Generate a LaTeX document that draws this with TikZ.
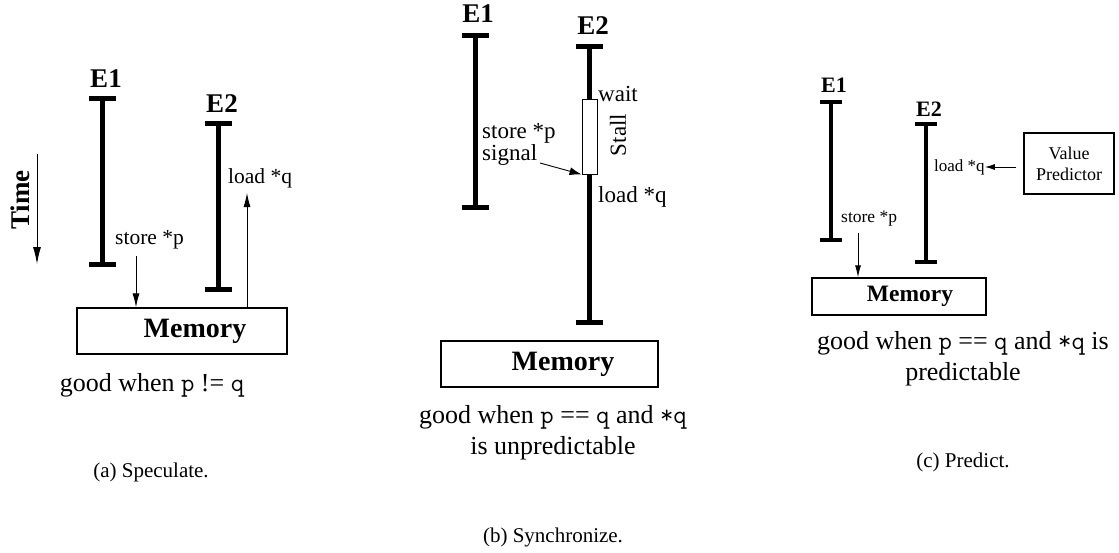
\documentclass[tikz,border=0pt]{standalone}
\usepackage{fontspec}
\setmainfont{Liberation Serif}
\newcommand{\cour}{\ttfamily}
\usetikzlibrary{arrows.meta}
\newcommand{\fs}[1]{\fontsize{#1}{#1}\selectfont}
\tikzset{
  lbl/.style={inner sep=0pt, font=\fs{27}\bfseries},
  txt/.style={inner sep=0pt, anchor=west, font=\fs{21.5}},
  good/.style={inner sep=0pt, font=\fs{26}},
  captxt/.style={inner sep=0pt, font=\fs{21}},
  barline/.style={line width=5pt},
  thinarrow/.style={line width=0.9pt, -{Latex[length=14pt,width=7pt]}},
  membox/.style={draw, line width=1.3pt, inner sep=0pt, font=\fs{28}\bfseries},
}
\begin{document}
\begin{tikzpicture}[x=1pt,y=-1pt]
\useasboundingbox (0,0) rectangle (1119,552);
% ---------------- (a) Speculate ----------------
\node[lbl] (a-e1) at (106,79) {E1};
\coordinate (a-b1t) at (102.7,98);
\coordinate (a-b1b) at (102.7,264);
\draw[barline] (a-b1t) -- (a-b1b);
\draw[barline] ([xshift=-13.5pt]a-b1t) -- ([xshift=13.5pt]a-b1t);
\draw[barline] ([xshift=-13.5pt]a-b1b) -- ([xshift=13.5pt]a-b1b);
\node[lbl] (a-e2) at (222,104) {E2};
\coordinate (a-b2t) at (218,123);
\coordinate (a-b2b) at (218,289);
\draw[barline] (a-b2t) -- (a-b2b);
\draw[barline] ([xshift=-13.5pt]a-b2t) -- ([xshift=13.5pt]a-b2t);
\draw[barline] ([xshift=-13.5pt]a-b2b) -- ([xshift=13.5pt]a-b2b);
\node[lbl, rotate=90] (a-time) at (20,200) {Time};
\coordinate (a-tt) at (37,154);
\coordinate (a-tb) at (37,264);
\draw[line width=0.9pt, -{Latex[length=17pt,width=8pt]}] (a-tt) -- (a-tb);
\node[membox, minimum width=210pt, minimum height=46pt] (a-mem) at (182,331) {\hspace*{26pt}Memory};
\node[txt] (a-st) at (115,240) {store *p};
\coordinate (a-sa) at (136,256);
\draw[thinarrow] (a-sa) -- (a-sa |- a-mem.north);
\node[txt] (a-ld) at (228,178) {load *q};
\coordinate (a-la) at (247,193);
\draw[thinarrow] (a-la |- a-mem.north) -- (a-la);
\node[good] (a-good) at (152,385) {good when {\cour p} != {\cour q}};
\node[captxt] (a-cap) at (151,472) {(a) Speculate.};
% ---------------- (b) Synchronize ----------------
\node[lbl] (b-e1) at (478,14) {E1};
\coordinate (b-b1t) at (475,35);
\coordinate (b-b1b) at (475,207);
\draw[barline] (b-b1t) -- (b-b1b);
\draw[barline] ([xshift=-13.5pt]b-b1t) -- ([xshift=13.5pt]b-b1t);
\draw[barline] ([xshift=-13.5pt]b-b1b) -- ([xshift=13.5pt]b-b1b);
\node[lbl] (b-e2) at (593,26) {E2};
\coordinate (b-b2t) at (589.5,46);
\coordinate (b-b2b) at (589.5,322);
\draw[barline] (b-b2t) -- (b-b2b);
\draw[barline] ([xshift=-13.5pt]b-b2t) -- ([xshift=13.5pt]b-b2t);
\draw[barline] ([xshift=-13.5pt]b-b2b) -- ([xshift=13.5pt]b-b2b);
\node[draw, fill=white, line width=0.9pt, inner sep=0pt, minimum width=15pt, minimum height=75pt] (b-stall) at (589.5,136.5) {};
\node[txt, font=\fs{23}] (b-wait) at (598,94) {wait};
\node[inner sep=0pt, font=\fs{23}, rotate=90] (b-stl) at (618,135) {Stall};
\node[txt, font=\fs{23}] (b-st) at (482,133) {store *p};
\node[txt, font=\fs{23}] (b-sig) at (482,155) {signal};
\node[txt, font=\fs{23}] (b-ld) at (598,197) {load *q};
\coordinate (b-as) at (540,163);
\draw[line width=0.9pt, -{Latex[length=12pt,width=8pt]}] (b-as) -- (b-stall.south west);
\node[membox, minimum width=217pt, minimum height=46pt] (b-mem) at (549.5,364) {\hspace*{27pt}Memory};
\node[good, align=center] (b-good) at (553,433) {good when {\cour p} == {\cour q} and {\cour *q}\\[5pt]is unpredictable};
\node[captxt] (b-cap) at (553,537) {(b) Synchronize.};
% ---------------- (c) Predict ----------------
\node[lbl, font=\fs{22}\bfseries] (c-e1) at (834,85) {E1};
\coordinate (c-b1t) at (831,102);
\coordinate (c-b1b) at (831,240);
\draw[line width=4pt] (c-b1t) -- (c-b1b);
\draw[line width=4pt] ([xshift=-11pt]c-b1t) -- ([xshift=11pt]c-b1t);
\draw[line width=4pt] ([xshift=-11pt]c-b1b) -- ([xshift=11pt]c-b1b);
\node[lbl, font=\fs{22}\bfseries] (c-e2) at (929,109) {E2};
\coordinate (c-b2t) at (926,124);
\coordinate (c-b2b) at (926,262);
\draw[line width=4pt] (c-b2t) -- (c-b2b);
\draw[line width=4pt] ([xshift=-11pt]c-b2t) -- ([xshift=11pt]c-b2t);
\draw[line width=4pt] ([xshift=-11pt]c-b2b) -- ([xshift=11pt]c-b2b);
\node[draw, line width=1.3pt, inner sep=0pt, minimum width=90pt, minimum height=61pt, align=center, font=\fs{18}] (c-vp) at (1069,163.5) {Value\\[3pt]Predictor};
\node[txt, font=\fs{17}] (c-ld) at (934,167) {load *q};
\draw[line width=0.9pt, -{Latex[length=10pt,width=6pt]}, shorten <=7pt] (c-vp.west |- c-ld) -- (c-ld.east);
\node[membox, font=\fs{23.5}\bfseries, minimum width=174pt, minimum height=37pt] (c-mem) at (899,296.5) {\hspace*{22pt}Memory};
\node[txt, font=\fs{17.5}] (c-st) at (841,219) {store *p};
\coordinate (c-sa) at (858,233);
\draw[line width=0.9pt, -{Latex[length=12pt,width=6pt]}] (c-sa) -- (c-sa |- c-mem.north);
\node[good, align=center] (c-good) at (963,358.5) {good when {\cour p} == {\cour q} and {\cour *q} is\\[5pt]predictable};
\node[captxt] (c-cap) at (963,462) {(c) Predict.};
\end{tikzpicture}
\end{document}
